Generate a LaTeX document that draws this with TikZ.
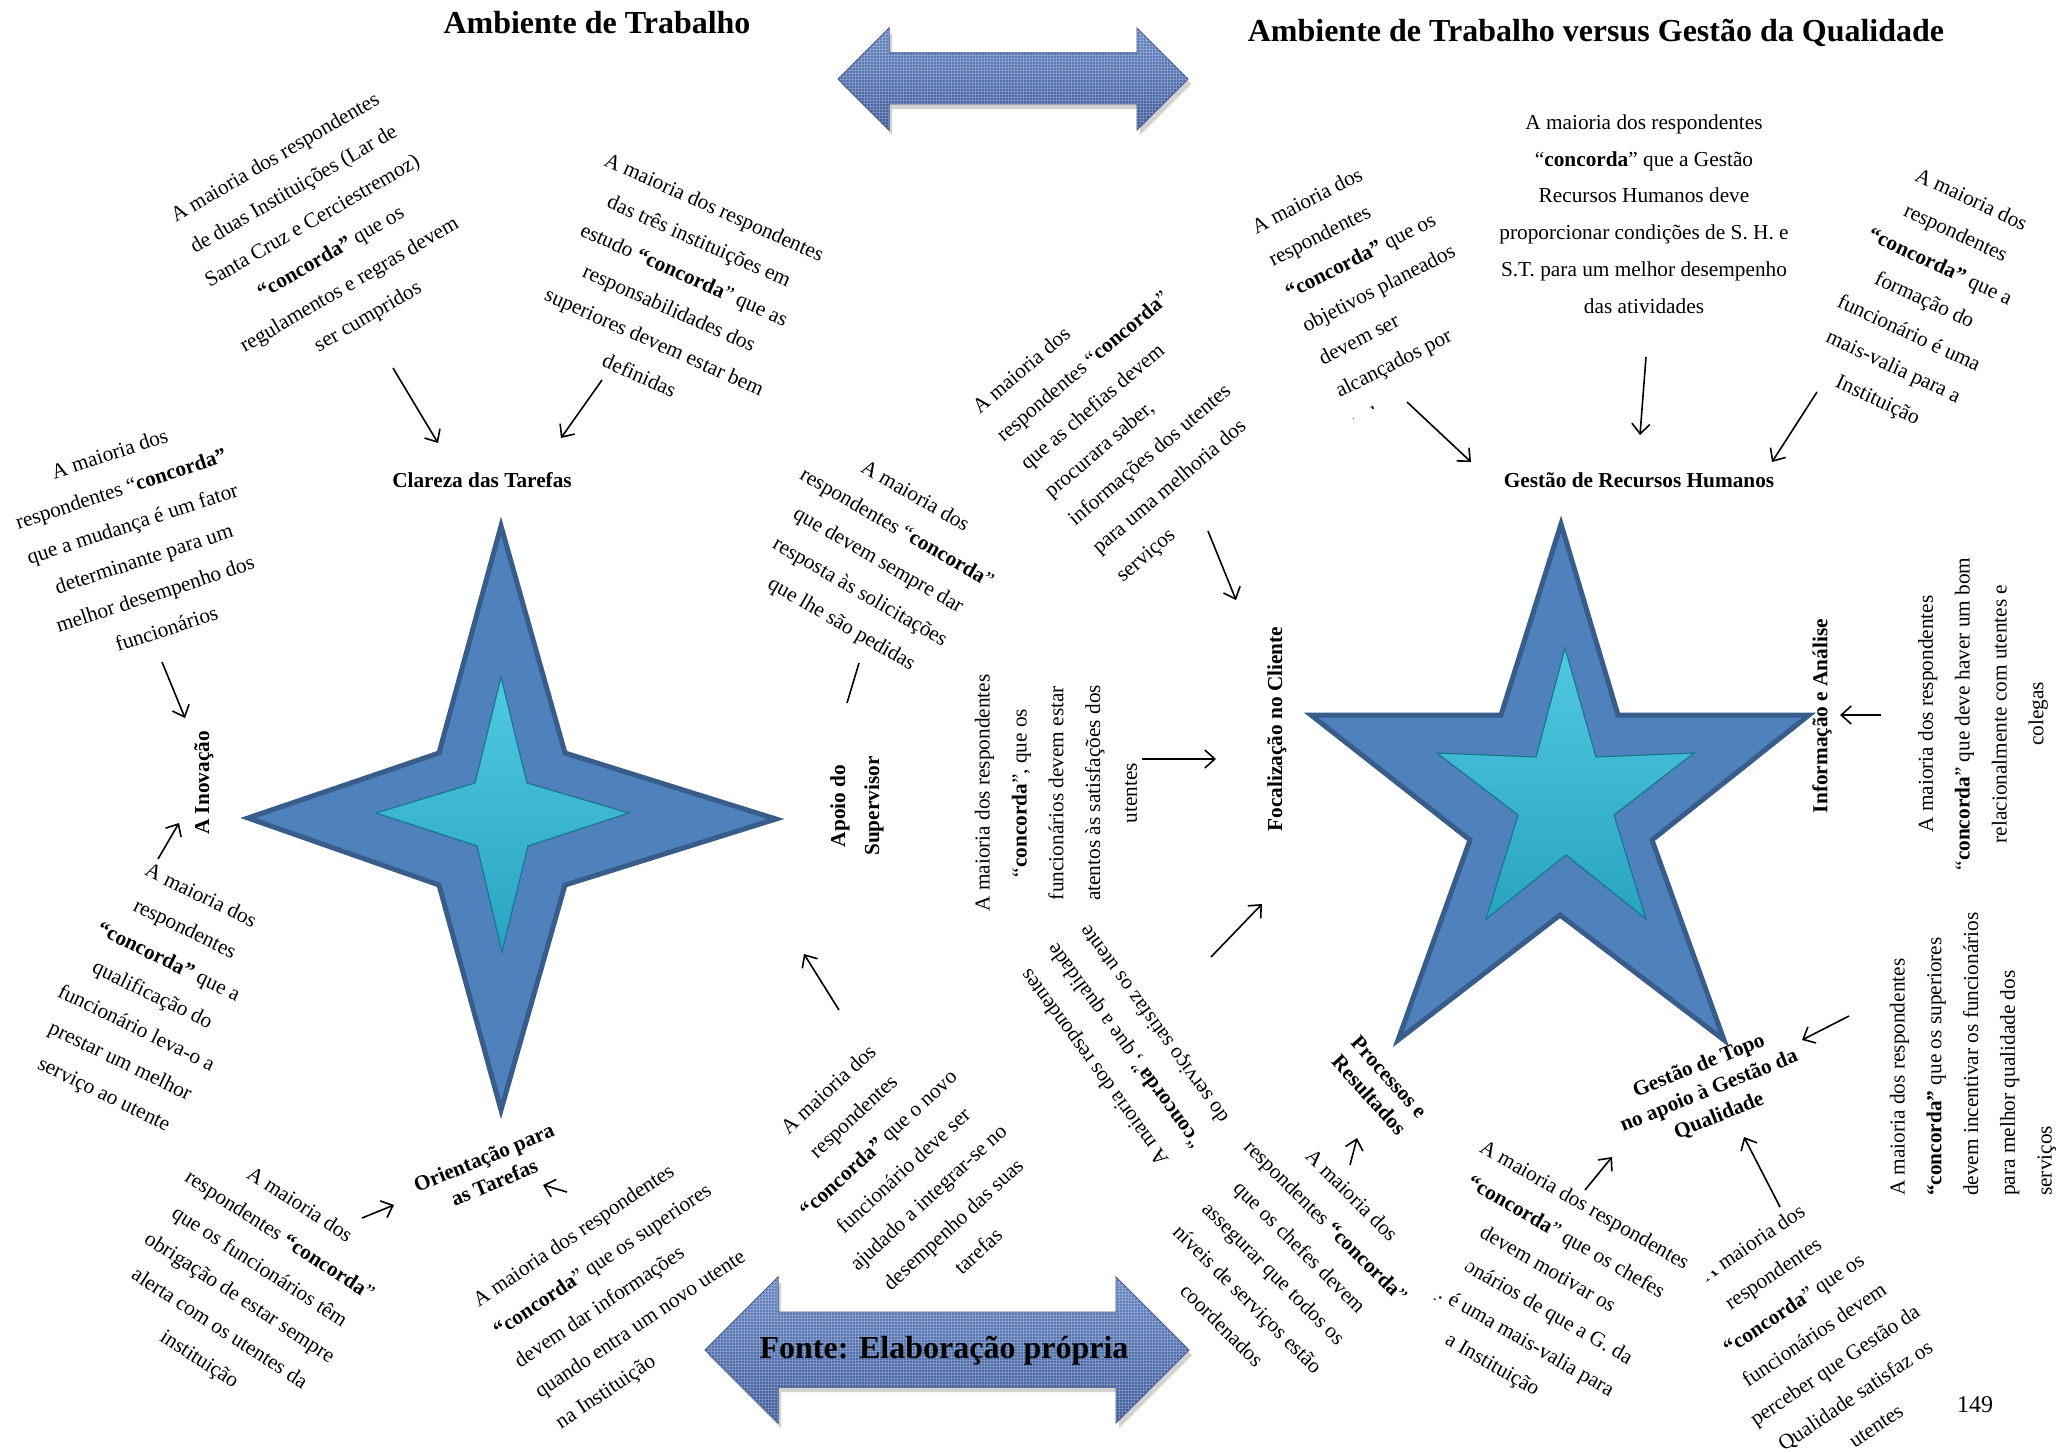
\documentclass[tikz,border=0pt]{standalone}
\usepackage{fontspec}
\setmainfont{Liberation Serif}
\usetikzlibrary{arrows.meta,patterns}

\definecolor{starblue}{RGB}{79,129,189}
\definecolor{starrim}{RGB}{56,93,138}
\definecolor{cyanhi}{RGB}{80,200,226}
\definecolor{cyanlo}{RGB}{40,164,194}
\definecolor{cyanrim}{RGB}{28,118,142}
\definecolor{denimhi}{RGB}{112,144,202}
\definecolor{denimlo}{RGB}{66,96,158}
\definecolor{denimrim}{RGB}{56,80,132}
\definecolor{denimdark}{RGB}{34,54,100}

\begin{document}
\begin{tikzpicture}[x=1pt,y=-1pt,
  txt/.style={font=\fontsize{21.3}{36.8}\selectfont, inner sep=0pt, align=center},
  txtl/.style={txt, align=left},
  lbl/.style={font=\fontsize{21.3}{27}\selectfont\bfseries, inner sep=0pt, align=center},
  ttl/.style={font=\fontsize{32}{38}\selectfont\bfseries, inner sep=0pt},
  arr/.style={line width=1.6pt, -{Straight Barb[length=10pt,width=18pt]}},
  plainline/.style={line width=1.6pt},
  outerstar/.style={fill=starblue, draw=starrim, line width=5pt, line join=miter},
  innerstar/.style={top color=cyanhi, bottom color=cyanlo, draw=cyanrim, line width=1.2pt, line join=miter},
  denimfill/.style={top color=denimhi, bottom color=denimlo, draw=denimrim, line width=1pt},
  denimweave/.style={pattern=grid, pattern color=white, opacity=0.2},
  denimspeck/.style={pattern=crosshatch dots, pattern color=denimdark, opacity=0.3},
]
\useasboundingbox (0,0) rectangle (2061,1453);
\fill[white] (0,0) rectangle (2061,1453);

% ---------- titles ----------
\node[ttl, anchor=base] (t1) at (597,34) {Ambiente de Trabalho};
\node[ttl, anchor=base] (t2) at (1596,42) {Ambiente de Trabalho versus Gestão da Qualidade};

% ---------- double arrows ----------
\fill[black, opacity=0.18] (841,84) -- (892,33) -- (892,58) -- (1140,58) -- (1140,33) -- (1191,84) -- (1140,135) -- (1140,109) -- (892,109) -- (892,135) -- cycle;
\path[denimfill] (838,79) -- (889,28) -- (889,53) -- (1137,53) -- (1137,28) -- (1188,79) -- (1137,130) -- (1137,104) -- (889,104) -- (889,130) -- cycle;
\path[denimspeck] (838,79) -- (889,28) -- (889,53) -- (1137,53) -- (1137,28) -- (1188,79) -- (1137,130) -- (1137,104) -- (889,104) -- (889,130) -- cycle;
\path[denimweave] (838,79) -- (889,28) -- (889,53) -- (1137,53) -- (1137,28) -- (1188,79) -- (1137,130) -- (1137,104) -- (889,104) -- (889,130) -- cycle;

\fill[black, opacity=0.18] (708,1355) -- (781,1282) -- (781,1317) -- (1119,1317) -- (1119,1282) -- (1192,1355) -- (1119,1428) -- (1119,1392) -- (781,1392) -- (781,1428) -- cycle;
\path[denimfill] (705,1350) -- (778,1277) -- (778,1312) -- (1116,1312) -- (1116,1277) -- (1189,1350) -- (1116,1423) -- (1116,1387) -- (778,1387) -- (778,1423) -- cycle;
\path[denimspeck] (705,1350) -- (778,1277) -- (778,1312) -- (1116,1312) -- (1116,1277) -- (1189,1350) -- (1116,1423) -- (1116,1387) -- (778,1387) -- (778,1423) -- cycle;
\path[denimweave] (705,1350) -- (778,1277) -- (778,1312) -- (1116,1312) -- (1116,1277) -- (1189,1350) -- (1116,1423) -- (1116,1387) -- (778,1387) -- (778,1423) -- cycle;
\node[ttl, anchor=base] (fonte) at (944,1358) {Fonte: Elaboração própria};

% ---------- stars ----------
\path[outerstar] (501,526) -- (565,753) -- (776,819) -- (565,885) -- (501,1110) -- (439,885) -- (248,818) -- (439,753) -- cycle;
\path[innerstar] (501,677) -- (527,783) -- (629,813) -- (528,846) -- (502,952) -- (477,846) -- (376,813) -- (475,783) -- cycle;

\path[outerstar] (1561,524) -- (1618,715) -- (1809,715) -- (1652,840) -- (1724,1040) -- (1560,915) -- (1398,1040) -- (1470,840) -- (1311,715) -- (1501,715) -- cycle;
\path[innerstar] (1565,648) -- (1596,757) -- (1694,753) -- (1614,815) -- (1646,919) -- (1566,855) -- (1486,919) -- (1518,815) -- (1437,753) -- (1536,757) -- cycle;

% ---------- labels ----------
\node[lbl, anchor=base] (clareza) at (482,487) {Clareza das Tarefas};
\node[lbl, rotate=90] (inov) at (204,783) {A Inovação};
\node[lbl, rotate=90, font=\fontsize{21.3}{34}\selectfont\bfseries] (apoio) at (857,806) {Apoio do\\Supervisor};
\node[lbl, rotate=22.4] (orient) at (489,1170) {Orientação para\\as Tarefas};
\node[lbl, anchor=base] (grh) at (1639,487) {Gestão de Recursos Humanos};
\node[lbl, rotate=90] (focal) at (1277,729) {Focalização no Cliente};
\node[lbl, rotate=90] (info) at (1822,716) {Informação e Análise};
\node[lbl, rotate=-48] (proc) at (1379,1086) {Processos e\\Resultados};
\node[lbl, rotate=22] (topo) at (1709,1091) {Gestão de Topo\\no apoio à Gestão da\\Qualidade};

% ---------- left star statements ----------
\node[txt, rotate=30.2] (bA) at (322,238) {A maioria dos respondentes\\de duas Instituições (Lar de\\Santa Cruz e Cerciestremoz)\\\textbf{“concorda”} que os\\regulamentos e regras devem\\ser cumpridos};
\node[txt, rotate=-24] (bB) at (677,291) {A maioria dos respondentes\\das três instituições em\\estudo \textbf{“concorda}” que as\\responsabilidades dos\\superiores devem estar bem\\definidas};
\node[txt, rotate=18] (bJ) at (138,541) {A maioria dos\\respondentes “\textbf{concorda”}\\que a mudança é um fator\\determinante para um\\melhor desempenho dos\\funcionários};
\node[txt, rotate=-26] (bK) at (152,996) {A maioria dos\\respondentes\\\textbf{“concorda”} que a\\qualificação do\\funcionário leva-o a\\prestar um melhor\\serviço ao utente};
\node[txt, rotate=-33] (bL) at (249,1283) {A maioria dos\\respondentes \textbf{“concorda}”\\que os funcionários têm\\obrigação de estar sempre\\alerta com os utentes da\\instituição};
\node[txtl, rotate=34, anchor=west] (bM) at (517,1364) {A maioria dos respondentes\\\textbf{“concorda}” que os superiores\\devem dar informações\\quando entra um novo utente\\na Instituição};
\node[txt, rotate=42.8] (bN) at (903,1170) {A maioria dos\\respondentes\\\textbf{“concorda”} que o novo\\funcionário deve ser\\ajudado a integrar-se no\\desempenho das suas\\tarefas};
\node[txt, rotate=-30] (bD) at (878,561) {A maioria dos\\respondentes “\textbf{concorda}”\\que devem sempre dar\\resposta às solicitações\\que lhe são pedidas};

% ---------- right star statements ----------
\node[txtl, rotate=40.5, anchor=west] (bC) at (1048,495) {A maioria dos\\respondentes “\textbf{concorda}”\\que as chefias devem\\procurara saber,\\informações dos utentes\\para uma melhoria dos\\serviços};
\node[txt, rotate=90] (bE) at (1056,793) {A maioria dos respondentes\\“\textbf{concorda}”, que os\\funcionários devem estar\\atentos às satisfações dos\\utentes};
\begin{scope}
  \clip[rotate around={27:(1303,326)}] (1280,150) rectangle (1560,431);
  \node[txtl, rotate=27, anchor=west] (bG) at (1303,326) {A maioria dos\\respondentes\\\textbf{“concorda”} que os\\objetivos planeados\\devem ser\\alcançados por\\todos};
\end{scope}
\node[txt] (bH) at (1644,214) {A maioria dos respondentes\\“\textbf{concorda}” que a Gestão\\Recursos Humanos deve\\proporcionar condições de S. H. e\\S.T. para um melhor desempenho\\das atividades};
\node[txt, rotate=-25] (bI) at (1924,301) {A maioria dos\\respondentes\\\textbf{“concorda”} que a\\formação do\\funcionário é uma\\mais-valia para a\\Instituição};
\node[txt, rotate=90] (bS) at (1983,714) {A maioria dos respondentes\\“\textbf{concorda}” que deve haver um bom\\relacionalmente com utentes e\\colegas};
\node[txtl, rotate=90, anchor=west] (bR) at (1973,1196) {A maioria dos respondentes\\\textbf{“concorda”} que os superiores\\devem incentivar os funcionários\\para melhor qualidade dos\\serviços};

% overlapping white text boxes at the bottom right, back to front
\node[txt, rotate=34] (bQ) at (1814,1334) {A maioria dos\\respondentes\\\textbf{“concorda}” que os\\funcionários devem\\perceber que Gestão da\\Qualidade satisfaz os\\utentes};
\fill[white, rotate around={-30:(1538,1286)}] (1413,1171) rectangle (1681,1401);
\node[txt, rotate=-30] (bP) at (1538,1286) {A maioria dos respondentes\\\textbf{“concorda}” que os chefes\\devem motivar os\\funcionários de que a G. da\\G.Q. é uma mais-valia para\\a Instituição};
\fill[white, rotate around={-45:(1287,1260)}] (1152,1125) rectangle (1418,1378);
\node[txt, rotate=-45] (bO) at (1287,1260) {A maioria dos\\respondentes \textbf{“concorda}”\\que os chefes devem\\assegurar que todos os\\níveis de serviços estão\\coordenados};
\node[txt, rotate=126] (bF) at (1125,1045) {A maioria dos respondentes\\“\textbf{concorda}”, que a qualidade\\do serviço satisfaz os utente};

\node[font=\fontsize{24}{28}\selectfont, inner sep=0pt, anchor=base] (page) at (1975,1412) {149};

% ---------- connector end points ----------
\coordinate (a1s) at (393,368);   \coordinate (a1e) at (438,443);
\coordinate (a2s) at (602,380);   \coordinate (a2e) at (561,438);
\coordinate (a3s) at (162,662);   \coordinate (a3e) at (185,718);
\coordinate (a4s) at (158,859);   \coordinate (a4e) at (179,823);
\coordinate (a5s) at (362,1218);  \coordinate (a5e) at (394,1205);
\coordinate (a6s) at (567,1192);  \coordinate (a6e) at (543,1185);
\coordinate (a7s) at (839,1010);  \coordinate (a7e) at (804,954);
\coordinate (a8s) at (859,663);   \coordinate (a8e) at (847,703);
\coordinate (a9s) at (1208,531);  \coordinate (a9e) at (1236,600);
\coordinate (a10s) at (1142,759); \coordinate (a10e) at (1216,759);
\coordinate (a11s) at (1211,957); \coordinate (a11e) at (1262,904);
\coordinate (a12s) at (1407,402); \coordinate (a12e) at (1471,462);
\coordinate (a13s) at (1646,357); \coordinate (a13e) at (1640,435);
\coordinate (a14s) at (1817,392); \coordinate (a14e) at (1772,462);
\coordinate (a15s) at (1881,715); \coordinate (a15e) at (1840,715);
\coordinate (a16s) at (1849,1016);\coordinate (a16e) at (1802,1040);
\coordinate (a17s) at (1780,1207);\coordinate (a17e) at (1744,1137);
\coordinate (a18s) at (1585,1190);\coordinate (a18e) at (1612,1157);
\coordinate (a19s) at (1350,1165);\coordinate (a19e) at (1357,1138);

% ---------- connectors ----------
\draw[arr] (a1s) -- (a1e);
\draw[arr] (a2s) -- (a2e);
\draw[arr] (a3s) -- (a3e);
\draw[arr] (a4s) -- (a4e);
\draw[arr] (a5s) -- (a5e);
\draw[arr] (a6s) -- (a6e);
\draw[arr] (a7s) -- (a7e);
\draw[plainline] (a8s) -- (a8e);
\draw[arr] (a9s) -- (a9e);
\draw[arr] (a10s) -- (a10e);
\draw[arr] (a11s) -- (a11e);
\draw[arr] (a12s) -- (a12e);
\draw[arr] (a13s) -- (a13e);
\draw[arr] (a14s) -- (a14e);
\draw[arr] (a15s) -- (a15e);
\draw[arr] (a16s) -- (a16e);
\draw[arr] (a17s) -- (a17e);
\draw[arr] (a18s) -- (a18e);
\draw[arr] (a19s) -- (a19e);
\end{tikzpicture}
\end{document}
